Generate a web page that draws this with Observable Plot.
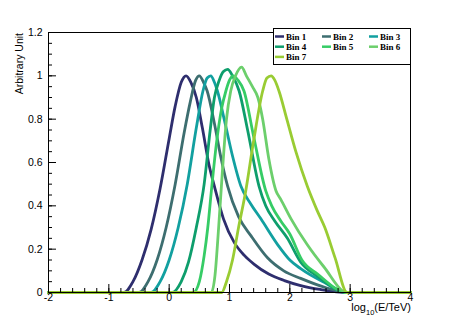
<!DOCTYPE html>
<html><head><meta charset="utf-8">
<script src="https://cdn.jsdelivr.net/npm/d3@7"></script>
<script src="https://cdn.jsdelivr.net/npm/@observablehq/plot@0.6"></script>
<style>body{margin:0;background:#fff}svg{display:block}</style>
</head><body><div id="chart"></div>
<script>
const binNames = ["Bin 1", "Bin 2", "Bin 3", "Bin 4", "Bin 5", "Bin 6", "Bin 7"];
const binColors = ["#2e2e6e", "#3d6e70", "#12a0a0", "#0e9e6c", "#36cc66", "#6ccf6c", "#99cc33"];

const bin1 = [[-2,0],[-0.75,0],[-0.6,0.05],[-0.45,0.15],[-0.3,0.29],[-0.15,0.48],[0,0.71],[0.1,0.86],[0.2,0.97],[0.28,1.0],[0.36,0.97],[0.45,0.9],[0.55,0.76],[0.66,0.59],[0.75,0.49],[0.9,0.34],[1.08,0.23],[1.25,0.17],[1.41,0.13],[1.65,0.085],[1.91,0.055],[2.18,0.032],[2.5,0.014],[2.95,0],[4,0]];
const bin2 = [[-2,0],[-0.5,0],[-0.35,0.05],[-0.2,0.15],[-0.05,0.3],[0.1,0.5],[0.25,0.74],[0.35,0.88],[0.44,0.98],[0.5,1.0],[0.57,0.97],[0.63,0.93],[0.75,0.78],[0.86,0.62],[0.97,0.49],[1.15,0.35],[1.36,0.26],[1.63,0.16],[1.9,0.1],[2.18,0.065],[2.6,0.022],[2.95,0],[4,0]];
const bin3 = [[-2,0],[-0.3,0],[-0.15,0.05],[0,0.15],[0.15,0.3],[0.3,0.5],[0.45,0.76],[0.56,0.93],[0.63,0.99],[0.69,1.0],[0.75,0.97],[0.8,0.93],[0.92,0.79],[1.05,0.63],[1.19,0.49],[1.35,0.41],[1.52,0.34],[1.8,0.22],[2.0,0.15],[2.18,0.11],[2.56,0.048],[2.95,0],[4,0]];
const bin4 = [[-2,0],[0.05,0],[0.2,0.05],[0.32,0.14],[0.45,0.3],[0.58,0.5],[0.68,0.75],[0.75,0.9],[0.83,0.98],[0.9,1.02],[0.97,1.03],[1.05,1.0],[1.16,0.93],[1.3,0.75],[1.49,0.49],[1.6,0.4],[1.75,0.33],[1.96,0.25],[2.18,0.14],[2.46,0.075],[2.95,0],[4,0]];
const bin5 = [[-2,0],[0.4,0],[0.5,0.05],[0.58,0.17],[0.64,0.3],[0.7,0.47],[0.78,0.68],[0.87,0.85],[0.94,0.93],[1.0,0.98],[1.06,1.0],[1.14,0.98],[1.24,0.93],[1.4,0.72],[1.6,0.47],[1.7,0.4],[1.85,0.33],[2.0,0.27],[2.2,0.15],[2.46,0.085],[2.95,0],[4,0]];
const bin6 = [[-2,0],[0.7,0],[0.76,0.08],[0.82,0.3],[0.88,0.55],[0.95,0.8],[1.02,0.93],[1.1,1.0],[1.2,1.04],[1.28,1.0],[1.38,0.95],[1.47,0.9],[1.55,0.8],[1.65,0.62],[1.77,0.47],[1.85,0.43],[2.02,0.34],[2.29,0.22],[2.56,0.12],[2.95,0],[4,0]];
const bin7 = [[-2,0],[0.87,0],[0.95,0.05],[1.05,0.15],[1.15,0.3],[1.27,0.47],[1.4,0.7],[1.55,0.93],[1.62,0.99],[1.69,1.0],[1.75,0.98],[1.82,0.93],[1.95,0.8],[2.1,0.65],[2.29,0.49],[2.45,0.38],[2.58,0.3],[2.75,0.16],[2.95,0],[4,0]];

const xTicks = [-2, -1, 0, 1, 2, 3, 4];
const xMinorTicks = d3.range(-2, 4.001, 0.2).map(v => +v.toFixed(2));
const yTicks = [0, 0.2, 0.4, 0.6, 0.8, 1, 1.2];
const yMinorTicks = d3.range(0, 1.2001, 0.05).map(v => +v.toFixed(2));
const xTitle = ["log", "10", "(E/TeV)"];
const yTitle = "Arbitrary Unit";

const bins = [bin1, bin2, bin3, bin4, bin5, bin6, bin7];
const data = bins.flatMap((pts, i) => pts.map(([x, y]) => ({x, y, bin: binNames[i]})));

const chart = Plot.plot({
  width: 457, height: 324,
  marginLeft: 48, marginRight: 47, marginTop: 32, marginBottom: 32,
  x: {domain: [-2, 4]},
  y: {domain: [0, 1.2]},
  color: {domain: binNames, range: binColors},
  style: {fontFamily: "'Liberation Sans', Arial, sans-serif", fontSize: "10.5px", color: "#000", background: "#fff"},
  marks: [
    Plot.line(data, {x: "x", y: "y", z: "bin", stroke: "bin", strokeWidth: 2.8, curve: "monotone-x"}),
    Plot.axisY(yMinorTicks, {tickSize: -4, tickFormat: () => "", label: null}),
    Plot.axisY(yTicks, {tickSize: -8, tickPadding: 14, tickFormat: d => d3.format("~g")(d), label: null}),
    Plot.axisX(xMinorTicks, {tickSize: -4, tickFormat: () => "", label: null}),
    Plot.axisX(xTicks, {tickSize: -8, tickPadding: 9, tickFormat: d => String(d), label: null}),
    Plot.frame({stroke: "#000"})
  ]
});
document.getElementById("chart").appendChild(chart);

const svg = d3.select(chart);
// y title
svg.append("text")
  .attr("transform", "translate(23,33) rotate(-90)")
  .attr("text-anchor", "end")
  .attr("font-size", "10.5px")
  .attr("fill", "#000")
  .text(yTitle);
// x title
const xt = svg.append("text")
  .attr("x", 411).attr("y", 311)
  .attr("text-anchor", "end")
  .attr("font-size", "11px")
  .attr("fill", "#000");
xt.append("tspan").text(xTitle[0]);
xt.append("tspan").attr("dy", 4).attr("font-size", "7.5px").text(xTitle[1]);
xt.append("tspan").attr("dy", -4).text(xTitle[2]);

// legend
const lg = svg.append("g");
lg.append("rect").attr("x", 273.5).attr("y", 28.5).attr("width", 137).attr("height", 36)
  .attr("fill", "#fff").attr("stroke", "#000");
binNames.forEach((name, i) => {
  const col = i % 3, row = Math.floor(i / 3);
  const x0 = 275 + col * 47, y0 = 36.5 + row * 10.2;
  lg.append("line").attr("x1", x0).attr("x2", x0 + 9).attr("y1", y0).attr("y2", y0)
    .attr("stroke", binColors[i]).attr("stroke-width", 2.5);
  lg.append("text").attr("x", x0 + 11).attr("y", y0 + 3)
    .attr("text-anchor", "start")
    .attr("font-family", "'Liberation Serif', 'Times New Roman', serif")
    .attr("font-weight", "bold").attr("font-size", "9px").attr("fill", "#000")
    .text(name);
});
</script>
</body></html>
